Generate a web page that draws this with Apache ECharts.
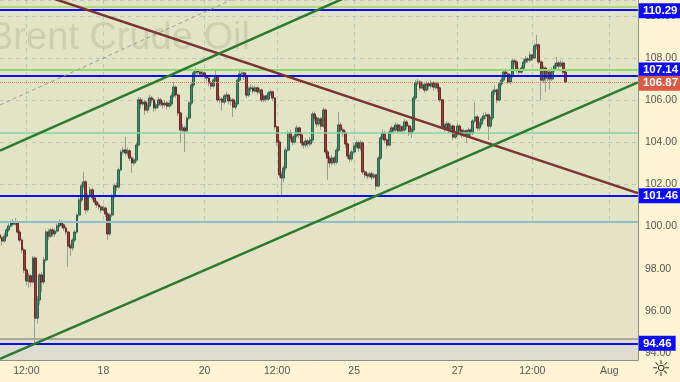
<!DOCTYPE html>
<html><head><meta charset="utf-8">
<script src="https://cdn.jsdelivr.net/npm/echarts@6/dist/echarts.min.js"></script>
<style>html,body{margin:0;padding:0;background:#fff4d3}#c{width:680px;height:382px}</style>
</head><body><div id="c"></div><script>
// hourly candles: [open, close, low, high]
const candles = [
[99.60,99.46,99.30,99.75],[99.46,99.32,99.10,99.55],[99.32,99.55,99.25,99.70],[99.55,99.84,99.45,99.95],
[99.84,100.03,99.75,100.15],[100.03,100.17,99.95,100.30],[100.17,100.12,100.00,100.35],[100.12,100.22,100.05,100.40],
[100.22,99.74,99.65,100.30],[99.74,99.36,99.25,99.85],[99.36,98.89,98.75,99.45],[98.89,97.94,97.80,99.00],
[97.94,97.42,97.20,98.05],[97.42,97.66,97.10,97.80],[97.66,97.37,97.15,97.75],[97.37,98.51,97.30,98.60],
[98.51,95.66,94.48,98.60],[95.66,96.52,95.40,96.70],[96.52,97.70,96.30,97.80],[97.70,97.37,96.90,97.85],
[97.37,98.42,97.25,98.55],[98.42,99.74,98.30,99.85],[99.74,99.55,99.35,99.90],[99.55,99.84,99.45,99.95],
[99.84,99.65,99.50,99.95],[99.65,99.79,99.50,99.90],[99.79,100.03,99.70,100.15],[100.03,100.22,99.95,100.35],
[100.22,100.08,99.95,100.30],[100.08,99.93,99.80,100.15],[99.93,99.74,99.60,100.05],[99.74,99.08,98.08,99.80],
[99.08,98.99,98.60,99.20],[98.99,99.36,98.85,99.45],[99.36,99.74,99.25,99.85],[99.74,100.55,99.65,100.65],
[100.55,101.26,100.45,101.40],[101.26,101.93,101.15,102.05],[101.93,102.12,101.80,102.59],[102.12,100.79,100.60,102.20],
[100.79,101.45,100.70,101.60],[101.45,101.74,101.35,101.90],[101.74,101.36,101.25,101.85],[101.36,101.17,101.05,101.45],
[101.17,101.03,100.90,101.25],[101.03,100.93,100.80,101.15],[100.93,100.79,100.65,101.00],[100.79,100.88,100.70,101.00],
[100.88,100.60,100.45,100.95],[100.60,99.65,99.36,100.70],[99.65,100.55,99.55,100.65],[100.55,101.45,100.45,101.55],
[101.45,101.93,101.35,102.05],[101.93,101.88,101.70,102.10],[101.88,102.69,101.80,102.80],[102.69,103.54,102.60,103.65],
[103.54,103.63,103.40,103.80],[103.63,103.49,103.35,104.26],[103.49,103.59,103.35,103.75],[103.59,103.25,103.10,103.70],
[103.25,103.02,102.55,103.35],[103.02,103.16,102.90,103.30],[103.16,103.87,103.05,104.00],[103.87,106.01,103.80,106.15],
[106.01,105.82,105.60,106.15],[105.82,105.91,105.70,106.05],[105.91,105.53,105.30,106.00],[105.53,105.72,105.40,105.85],
[105.72,106.10,105.60,106.25],[106.10,106.01,105.85,106.20],[106.01,105.63,105.45,106.10],[105.63,105.77,105.50,105.90],
[105.77,106.01,105.65,106.15],[106.01,105.86,105.70,106.10],[105.86,105.77,105.60,105.95],[105.77,105.86,105.65,106.00],
[105.86,105.72,105.55,105.95],[105.72,105.82,105.60,105.95],[105.82,106.20,105.70,106.35],[106.20,106.62,106.10,106.86],
[106.62,106.24,106.10,106.70],[106.24,105.39,105.25,106.30],[105.39,104.58,103.97,105.45],[104.58,104.68,104.40,104.85],
[104.68,104.54,103.54,104.80],[104.54,105.15,104.45,105.25],[105.15,105.86,105.05,105.95],[105.86,106.72,105.75,106.85],
[106.72,107.29,106.60,107.40],[107.29,107.43,107.15,107.55],[107.43,107.33,107.20,107.50],[107.33,107.24,107.10,107.40],
[107.24,107.29,107.15,107.40],[107.29,107.14,107.00,107.35],[107.14,107.05,106.90,107.20],[107.05,106.81,106.65,107.10],
[106.81,106.67,106.50,106.90],[106.67,106.95,106.55,107.05],[106.95,107.10,106.85,107.45],[107.10,106.01,105.90,107.15],
[106.01,106.05,105.85,106.20],[106.05,105.91,105.50,106.15],[105.91,106.20,105.80,106.30],[106.20,106.24,106.05,106.40],
[106.24,105.96,105.80,106.30],[105.96,106.01,105.75,106.15],[106.01,105.67,105.20,106.10],[105.67,105.82,105.55,105.95],
[105.82,106.95,105.75,107.05],[106.95,107.24,106.85,107.40],[107.24,107.29,107.10,107.45],[107.29,107.14,106.95,107.35],
[107.14,106.24,106.10,107.20],[106.24,106.53,106.15,106.65],[106.53,106.58,106.40,106.75],[106.58,106.43,106.30,106.70],
[106.43,106.58,106.35,106.70],[106.58,106.39,106.25,106.65],[106.39,106.48,106.30,106.60],[106.48,106.01,105.90,106.55],
[106.01,106.20,105.90,106.30],[106.20,106.05,105.90,106.25],[106.05,106.34,105.95,106.45],[106.34,106.39,106.20,106.50],
[106.39,106.10,105.95,106.45],[106.10,104.73,104.60,106.15],[104.73,104.01,103.85,104.80],[104.01,102.45,102.30,104.10],
[102.45,102.31,101.50,102.60],[102.31,102.78,102.10,102.90],[102.78,103.63,102.65,103.75],[103.63,104.44,103.55,104.55],
[104.44,104.20,104.05,104.60],[104.20,104.01,103.85,104.30],[104.01,104.30,103.90,104.45],[104.30,104.68,104.20,104.80],
[104.68,104.35,104.20,104.75],[104.35,103.97,103.80,104.45],[103.97,103.87,103.70,104.05],[103.87,104.06,103.75,104.20],
[104.06,103.92,103.75,104.15],[103.92,104.11,103.80,104.25],[104.11,105.34,104.00,105.45],[105.34,105.15,105.00,105.45],
[105.15,104.87,104.70,105.25],[104.87,105.11,104.75,105.20],[105.11,104.77,104.60,105.20],[104.77,105.53,104.70,105.65],
[105.53,103.54,103.40,105.60],[103.54,103.25,102.21,103.65],[103.25,103.02,102.80,103.35],[103.02,103.25,102.90,103.40],
[103.25,103.06,102.90,103.35],[103.06,103.63,102.95,103.75],[103.63,104.82,103.55,105.43],[104.82,104.58,104.40,104.95],
[104.58,104.44,104.25,104.70],[104.44,103.92,103.75,104.55],[103.92,103.35,103.20,104.00],[103.35,103.21,103.05,103.45],
[103.21,103.54,103.10,103.65],[103.54,103.82,103.45,103.95],[103.82,103.97,103.70,104.10],[103.97,103.73,103.55,104.05],
[103.73,103.97,103.60,104.10],[103.97,102.59,102.45,104.05],[102.59,102.45,102.30,102.70],[102.45,102.40,102.25,102.55],
[102.40,102.50,102.30,102.60],[102.50,102.35,102.20,102.60],[102.35,102.45,102.25,102.55],[102.45,101.93,101.74,102.50],
[101.93,103.25,101.85,103.35],[103.25,104.20,103.15,104.30],[104.20,104.44,104.10,104.60],[104.44,104.11,103.95,104.55],
[104.11,103.87,103.70,104.20],[103.87,104.49,103.80,104.60],[104.49,104.68,104.40,104.80],[104.68,104.58,104.40,104.75],
[104.58,104.82,104.45,104.95],[104.82,104.54,104.40,104.90],[104.54,104.73,104.45,104.85],[104.73,104.58,104.40,104.80],
[104.58,104.96,104.50,105.10],[104.96,104.77,104.60,105.05],[104.77,104.44,104.30,104.85],[104.44,104.58,104.20,104.70],
[104.58,106.10,104.50,106.20],[106.10,106.81,106.00,106.95],[106.81,106.86,106.70,107.00],[106.86,106.58,106.45,106.95],
[106.58,106.72,106.50,106.85],[106.72,106.48,106.35,106.80],[106.48,106.77,106.40,106.90],[106.77,106.67,106.50,106.85],
[106.67,106.81,106.55,106.95],[106.81,106.62,106.45,106.90],[106.62,106.77,106.50,106.85],[106.77,106.58,106.40,106.85],
[106.58,106.01,105.90,106.65],[106.01,104.77,104.65,106.05],[104.77,104.68,104.50,104.90],[104.68,104.87,104.55,105.00],
[104.87,104.63,104.45,104.95],[104.63,104.77,104.50,104.90],[104.77,104.25,104.10,104.85],[104.25,104.39,104.15,104.50],
[104.39,104.77,104.30,104.90],[104.77,104.58,104.40,104.85],[104.58,104.35,104.20,104.65],[104.35,104.54,104.25,104.65],
[104.54,104.30,103.97,104.60],[104.30,104.58,104.20,104.70],[104.58,104.44,104.30,104.65],[104.44,105.01,104.35,105.10],
[105.01,105.20,104.90,105.91],[105.20,104.68,104.55,105.30],[104.68,104.87,104.55,105.00],[104.87,105.11,104.75,105.20],
[105.11,105.25,105.00,105.40],[105.25,105.30,105.10,105.45],[105.30,104.77,104.11,105.35],[104.77,105.15,104.65,105.25],
[105.15,106.39,105.05,106.50],[106.39,106.48,106.25,106.70],[106.48,106.01,105.85,106.55],[106.01,106.77,105.90,106.85],
[106.77,106.95,106.65,107.10],[106.95,107.33,106.85,107.45],[107.33,107.24,107.05,107.50],[107.24,106.86,106.75,107.35],
[106.86,107.14,106.75,107.25],[107.14,107.86,107.05,107.95],[107.86,107.81,107.65,107.95],[107.81,107.43,107.30,107.90],
[107.43,107.33,107.20,107.55],[107.33,107.52,107.25,107.65],[107.52,107.81,107.45,107.95],[107.81,107.95,107.70,108.10],
[107.95,107.90,107.75,108.05],[107.90,108.14,107.80,108.30],[108.14,108.00,107.85,108.20],[108.00,108.57,107.95,108.70],
[108.57,108.62,108.40,109.09],[108.62,107.81,107.70,108.70],[107.81,106.95,106.01,107.90],[106.95,107.52,106.80,107.65],
[107.52,107.05,106.38,107.60],[107.05,107.33,106.90,107.45],[107.33,107.00,106.50,107.40],[107.00,107.43,106.90,107.55],
[107.43,107.62,107.35,107.75],[107.62,107.76,107.50,108.05],[107.76,107.62,107.45,107.85],[107.62,107.76,107.55,107.90],
[107.76,107.33,107.20,107.85],[107.33,106.87,106.80,107.40]
];
const slotCount = 291; // hourly slots incl. empty future space
const tickLabels = {12:'12:00',47:'18',93:'20',126:'12:00',161:'25',208:'27',242:'12:00',277:'Aug'};
const blueLevels = [110.29,107.14,101.46,94.46];
const lastPrice = 106.87;
const guideLevels = [110.44,107.45,104.44,100.22,94.70];
const guideColors = ['#b9d77e','#8fd873','#86d3a6','#8abfcc','#a9a89c'];
const brownLine = [[0,111.66],[290,101.59]];
const upperChannel = [[0,103.60],[290,117.01]];
const lowerChannel = [[0,93.72],[290,106.84]];
const dashedRay = [[0,105.77],[130,111.93]];
const zones = [[94.70,100.22,'#e6e2c6'],[93.67,94.70,'#dfddd0']];
const yMin = 93.67, yMax = 110.75;

const FONT = "'Liberation Sans Narrow','Liberation Sans',Arial,sans-serif";
const cats = Array.from({length: slotCount}, (_, i) => i);
const bodies = candles.map(([o, c]) => [o, c, Math.min(o, c), Math.max(o, c)]);
const isTick = (i) => tickLabels[i] !== undefined;

const tagOffsets = {110.29:[0,1], 107.14:[0,-6], 101.46:[0,0], 94.46:[0,0]};
const markLines = [];
guideLevels.forEach((v, k) => markLines.push({yAxis: v, lineStyle: {color: guideColors[k], width: k === 2 ? 1.5 : 2, type: 'solid'}, label: {show: false}}));
blueLevels.forEach(v => markLines.push({yAxis: v, lineStyle: {color: '#0b0bff', width: 2, type: 'solid'},
  label: {show: true, position: 'end', distance: 1, offset: tagOffsets[v], formatter: v.toFixed(2), color: '#fff',
    backgroundColor: '#0b0bff', padding: [2, 4, 1, 4], fontWeight: 'bold', fontSize: 11.5, fontFamily: FONT}}));
markLines.push({yAxis: lastPrice, lineStyle: {color: '#e07a62', width: 1, type: 'dotted'},
  label: {show: true, position: 'end', distance: 1, offset: [0, 1.5], formatter: lastPrice.toFixed(2), color: '#fff',
    backgroundColor: '#dc5a44', padding: [2, 4, 1, 4], fontWeight: 'bold', fontSize: 11.5, fontFamily: FONT}});

const trend = (data, color, width, type) => ({type: 'line', xAxisIndex: 1, data, symbol: 'none', clip: true, z: 5,
  silent: true, lineStyle: {color, width, type}});

const chart = echarts.init(document.getElementById('c'), null, {renderer: 'canvas'});
chart.setOption({
  animation: false,
  backgroundColor: '#fff4d3',
  grid: {left: 0, right: 40, top: 0, bottom: 22, show: true, backgroundColor: '#e2e5c5', borderWidth: 0, containLabel: false},
  xAxis: [{
    type: 'category', data: cats, boundaryGap: false,
    axisLine: {show: true, lineStyle: {color: '#8f8f86', width: 1}},
    axisTick: {show: false},
    axisLabel: {interval: (i) => isTick(i), formatter: (v, i) => tickLabels[i] || '', color: '#555', fontSize: 10.5, fontFamily: FONT, margin: 6},
    splitLine: {show: true, interval: (i) => isTick(i), lineStyle: {color: 'rgba(150,165,180,0.45)', type: [4, 4], width: 1}}
  }, {type: 'value', min: 0, max: 290, show: false}],
  yAxis: [{
    type: 'value', position: 'right', min: yMin, max: yMax, splitNumber: 8,
    axisLine: {show: true, onZero: false, lineStyle: {color: '#8f8f86', width: 1}},
    axisTick: {show: false},
    axisLabel: {color: '#555', fontSize: 10.5, fontFamily: FONT, margin: 7, showMinLabel: false, showMaxLabel: false,
      formatter: (v) => v.toFixed(2)},
    splitLine: {show: true, lineStyle: {color: 'rgba(150,165,180,0.45)', type: [4, 4], width: 1}}
  }],
  graphic: [
    {type: 'text', z: 2, silent: true, style: {text: 'Brent Crude Oil', x: -12, y: 39, verticalAlign: 'middle',
      font: "38px 'Liberation Sans',Arial,sans-serif", fill: 'rgba(100,105,80,0.17)'}},
    {type: 'text', z: 10, silent: true, style: {text: '☼', x: 661, y: 370, align: 'center', verticalAlign: 'middle',
      font: "bold 22px 'DejaVu Sans',sans-serif", fill: '#333'}}
  ],
  series: [
    {type: 'line', xAxisIndex: 1, data: [], z: 1, silent: true,
      markArea: {silent: true, data: zones.map(([a, b, col]) => [{xAxis: 0, yAxis: a, itemStyle: {color: col}}, {xAxis: 290, yAxis: b}])}},
    {type: 'candlestick', name: 'wicks', data: candles, z: 3, barWidth: 2.4, silent: true,
      itemStyle: {color: 'rgba(0,0,0,0)', color0: 'rgba(0,0,0,0)', borderColor: '#9a9c91', borderColor0: '#9a9c91', borderWidth: 1}},
    {type: 'candlestick', name: 'Brent', data: bodies, z: 4, barWidth: 2.4, silent: true,
      itemStyle: {color: '#3f8d6b', color0: '#9c3d3a', borderColor: '#2b654b', borderColor0: '#6a2a27', borderWidth: 1}},
    trend(dashedRay, '#9a9a94', 1, [4, 3]),
    trend(brownLine, '#7b3232', 2.5, 'solid'),
    trend(upperChannel, '#2c7a30', 2.5, 'solid'),
    trend(lowerChannel, '#2c7a30', 2.5, 'solid'),
    {type: 'line', xAxisIndex: 1, data: [], z: 6, clip: false, silent: true,
      markLine: {silent: true, symbol: ['none', 'none'], animation: false, data: markLines}}
  ]
});
</script></body></html>
